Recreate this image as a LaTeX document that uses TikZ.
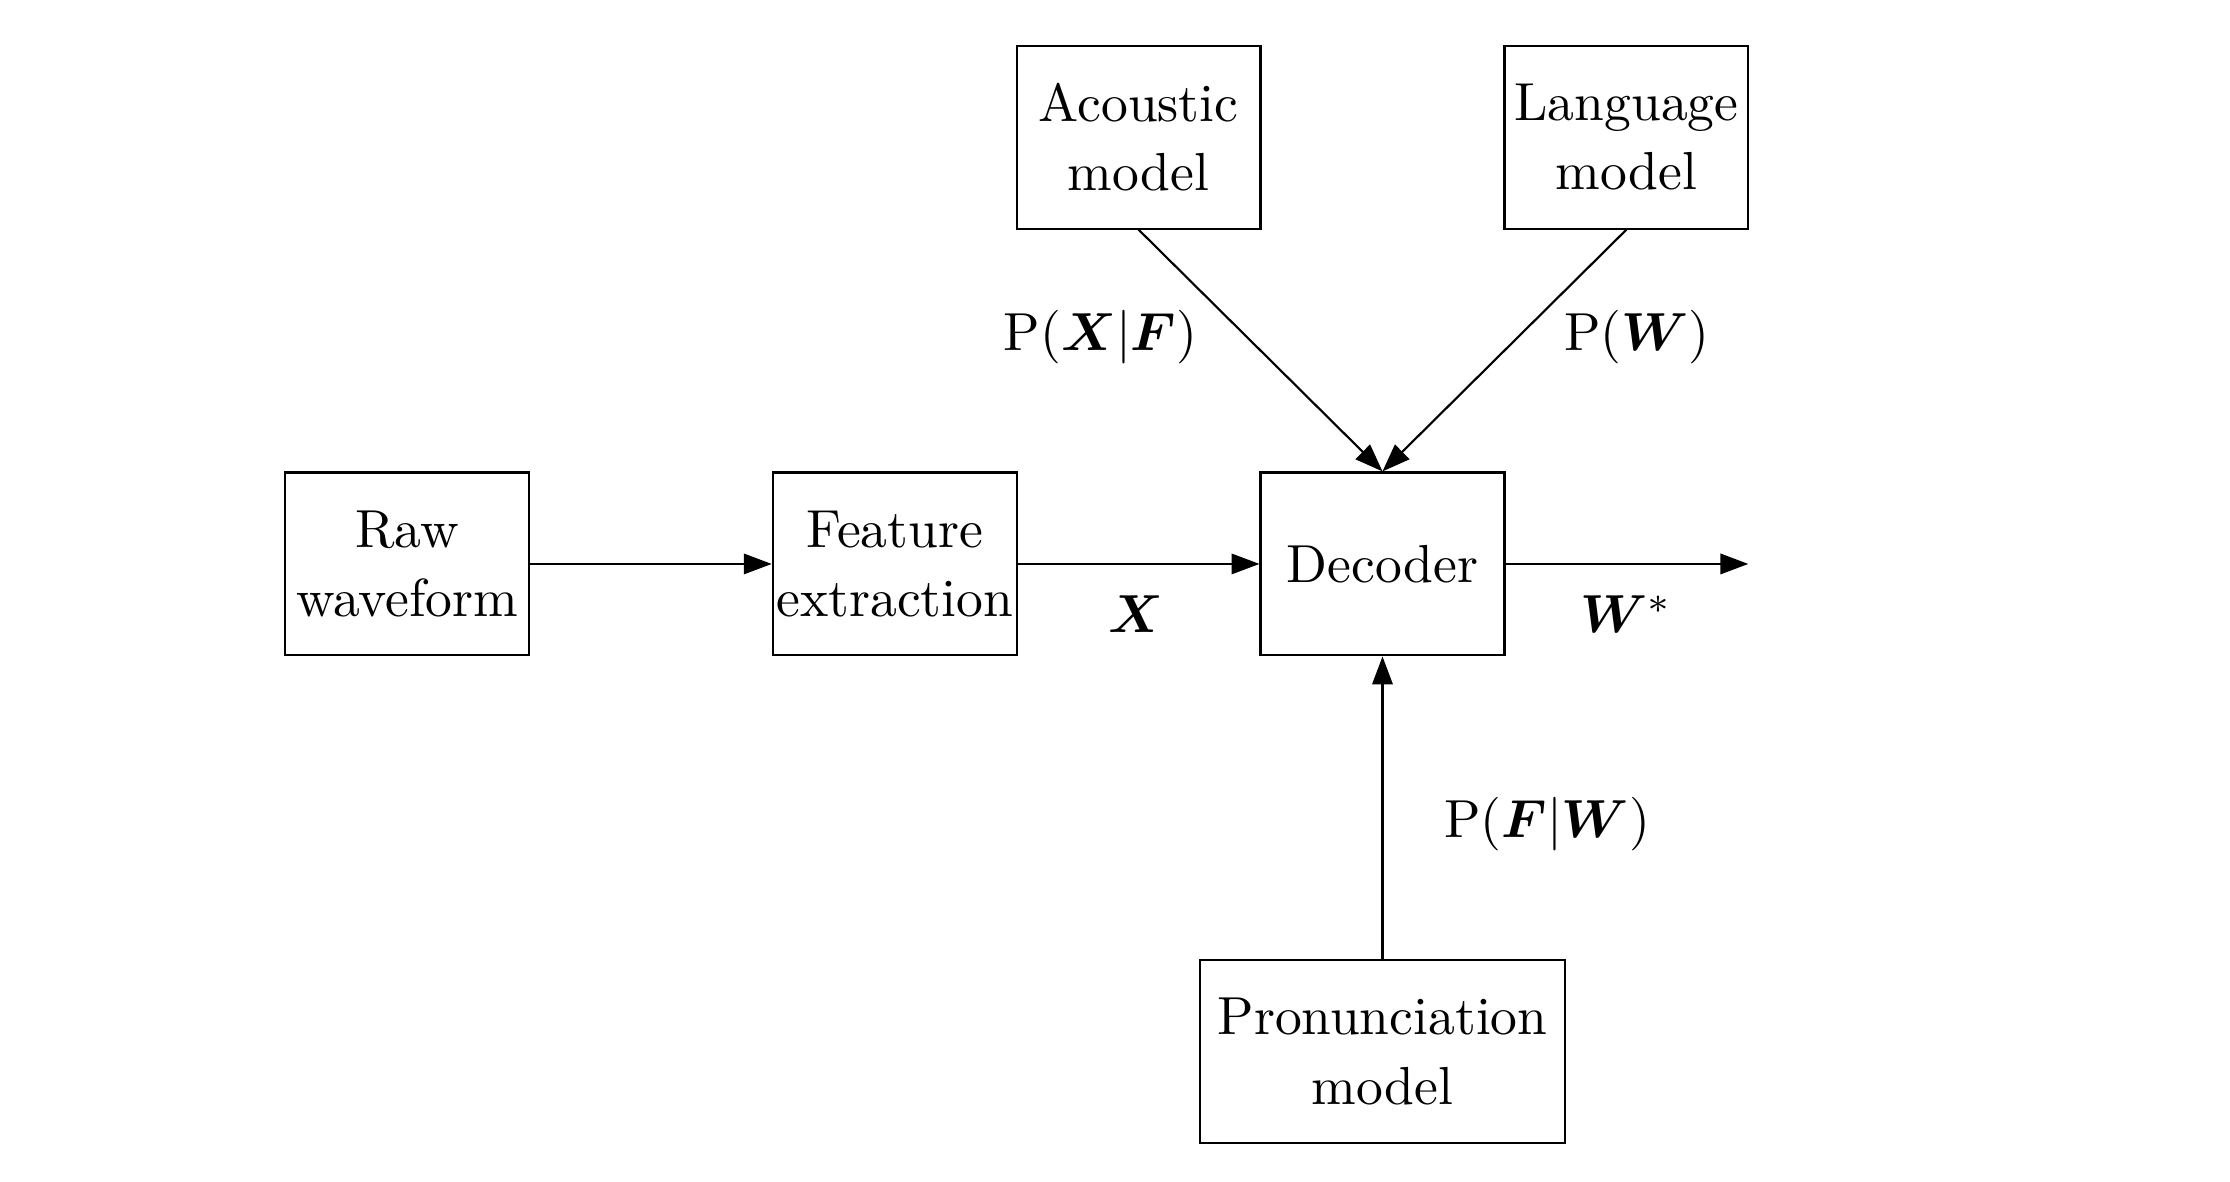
\documentclass[tikz,border=0pt]{standalone}
\usepackage{amsmath,bm}
\usetikzlibrary{arrows.meta}
\begin{document}
\begin{tikzpicture}[
  blk/.style={draw, line width=0.4pt, minimum width=1.6cm, minimum height=1.2cm,
    inner xsep=0.5pt, align=center, font=\fontsize{10}{13}\selectfont},
  arr/.style={line width=0.4pt, -{Triangle[length=5.2pt,width=3.8pt]}},
  lbl/.style={font=\fontsize{10}{12}\selectfont, inner sep=0pt}
]
\useasboundingbox (-9.07,-4.05) rectangle (5.56,3.70);
\node[blk] (dec) at (0,0) {Decoder};
\node[blk] (raw) at (-6.4,0) {Raw\\waveform};
\node[blk] (fe) at (-3.2,0) {Feature\\extraction};
\node[blk] (am) at (-1.6,2.8) {Acoustic\\model};
\node[blk] (lm) at (1.6,2.8) {Language\\model};
\node[blk, minimum width=2.4cm] (pm) at (0,-3.2) {Pronunciation\\model};
\coordinate (out) at (2.4,0);
\draw[arr] (raw) -- (fe);
\draw[arr] (fe) -- (dec);
\draw[arr] (dec) -- (out);
\draw[arr] (am.south) -- (dec.north);
\draw[arr] (lm.south) -- (dec.north);
\draw[arr] (pm) -- (dec);
\node[lbl] (lxf) at (-1.85,1.49) {$\mathrm{P}(\bm{X}|\bm{F})$};
\node[lbl] (lw) at (1.67,1.49) {$\mathrm{P}(\bm{W})$};
\node[lbl] (lx) at (-1.62,-0.33) {$\bm{X}$};
\node[lbl] (lws) at (1.6,-0.33) {$\bm{W}^{*}$};
\node[lbl] (lfw) at (1.08,-1.71) {$\mathrm{P}(\bm{F}|\bm{W})$};
\end{tikzpicture}
\end{document}
